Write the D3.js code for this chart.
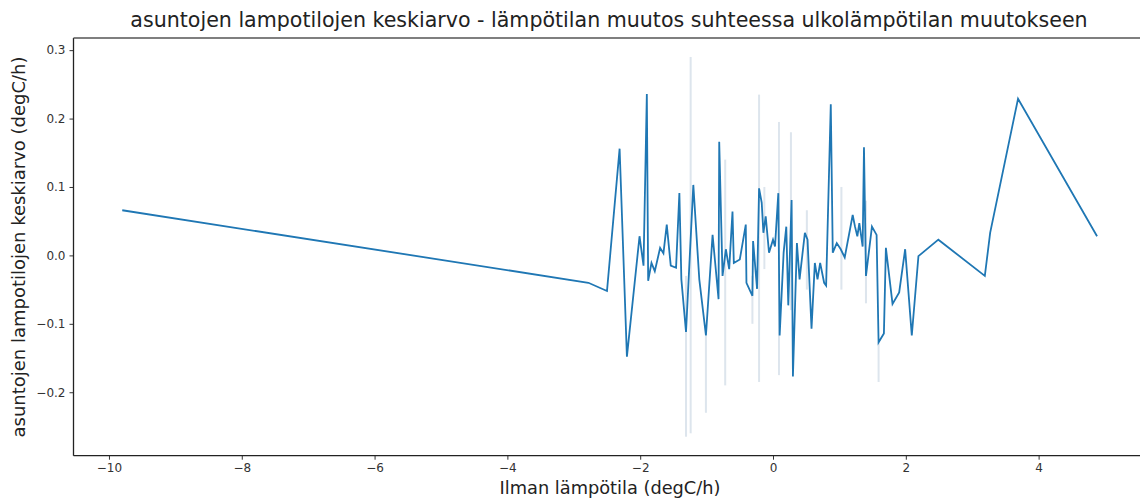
<!DOCTYPE html>
<html>
<head>
<meta charset="utf-8">
<script src="https://cdn.jsdelivr.net/npm/d3@7"></script>
<style>
  html, body { margin: 0; padding: 0; background: #fff; }
  svg { display: block; font-family: "DejaVu Sans", sans-serif; }
</style>
</head>
<body>
<svg id="chart" width="1140" height="500"></svg>
<script>
// ---- data ----
const title = "asuntojen lampotilojen keskiarvo - lämpötilan muutos suhteessa ulkolämpötilan muutokseen";
const xLabel = "Ilman lämpötila (degC/h)";
const yLabel = "asuntojen lampotilojen keskiarvo (degC/h)";

const xValues = [
  -9.80, -2.78, -2.50, -2.31, -2.20, -2.01, -1.95, -1.90, -1.88, -1.83,
  -1.78, -1.70, -1.65, -1.60, -1.54, -1.46, -1.41, -1.38, -1.31, -1.20,
  -1.11, -1.01, -0.91, -0.82, -0.81, -0.76, -0.71, -0.66, -0.61, -0.59,
  -0.50, -0.41, -0.40, -0.31, -0.30, -0.24, -0.21, -0.17, -0.145, -0.11,
  -0.06, 0.00, 0.03, 0.08, 0.10, 0.16, 0.20, 0.23, 0.28, 0.30,
  0.36, 0.40, 0.48, 0.52, 0.58, 0.63, 0.67, 0.71, 0.77, 0.80,
  0.87, 0.90, 0.96, 1.02, 1.08, 1.20, 1.235, 1.27, 1.30, 1.35,
  1.37, 1.40, 1.49, 1.56, 1.59, 1.67, 1.70, 1.80, 1.90, 1.99,
  2.09, 2.19, 2.49, 3.19, 3.27, 3.69, 4.88
];
const yValues = [
  0.066, -0.040, -0.052, 0.156, -0.148, 0.028, -0.015, 0.236, -0.037, -0.011,
  -0.023, 0.011, 0.003, 0.045, -0.015, -0.018, 0.091, -0.035, -0.112, 0.103,
  -0.035, -0.117, 0.030, -0.064, 0.166, -0.030, 0.009, -0.020, 0.064, -0.011,
  -0.006, 0.045, -0.040, -0.059, 0.021, -0.049, 0.098, 0.077, 0.033, 0.057,
  0.004, 0.023, 0.013, 0.091, -0.117, 0.004, 0.042, -0.073, 0.081, -0.177,
  0.018, -0.035, 0.033, 0.023, -0.107, -0.011, -0.035, -0.011, -0.040, -0.044,
  0.221, 0.004, 0.018, 0.009, -0.003, 0.059, 0.042, 0.028, 0.047, 0.013,
  0.158, -0.030, 0.042, 0.030, -0.127, -0.114, 0.011, -0.071, -0.054, 0.009,
  -0.117, -0.001, 0.023, -0.030, 0.033, 0.229, 0.028
];

// confidence-interval spreads visible as faint vertical bands
const ciX    = [-1.31, -1.24, -1.01, -0.72, -0.31, -0.21, -0.13, 0.09, 0.27, 0.51, 1.03, 1.40, 1.59];
const ciLow  = [-0.265, -0.26, -0.23, -0.19, -0.10, -0.185, -0.02, -0.175, -0.08, -0.05, -0.05, -0.07, -0.185];
const ciHigh = [-0.03, 0.29, -0.117, 0.14, -0.03, 0.235, 0.10, 0.195, 0.18, 0.066, 0.10, 0.08, -0.127];

const xTicks = [-10, -8, -6, -4, -2, 0, 2, 4];
const yTicks = [-0.2, -0.1, 0.0, 0.1, 0.2, 0.3];

// ---- layout ----
const plot = { left: 73.5, right: 1145.8, top: 38, bottom: 455.7 };
const lineColor = "#1f77b4";

const xExt = d3.extent(xValues);
const xPad = (xExt[1] - xExt[0]) * 0.05;
const yLo = d3.min(ciLow.concat(yValues)), yHi = d3.max(ciHigh.concat(yValues));
const yPad = (yHi - yLo) * 0.05;

const x = d3.scaleLinear().domain([xExt[0] - xPad, xExt[1] + xPad]).range([plot.left, plot.right]);
const y = d3.scaleLinear().domain([yLo - yPad, yHi + yPad]).range([plot.bottom, plot.top]);

const svg = d3.select("#chart");

svg.append("defs").append("clipPath").attr("id", "clip")
  .append("rect")
  .attr("x", plot.left).attr("y", plot.top)
  .attr("width", plot.right - plot.left).attr("height", plot.bottom - plot.top);

const g = svg.append("g").attr("clip-path", "url(#clip)");

// CI bands
g.selectAll("rect.ci").data(ciX).join("rect")
  .attr("class", "ci")
  .attr("x", d => x(d) - 1)
  .attr("width", 2)
  .attr("y", (d, i) => y(ciHigh[i]))
  .attr("height", (d, i) => y(ciLow[i]) - y(ciHigh[i]))
  .attr("fill", "#8fa9c4")
  .attr("fill-opacity", 0.3);

// main line
const pts = xValues.map((v, i) => [v, yValues[i]]);
g.append("path")
  .datum(pts)
  .attr("fill", "none")
  .attr("stroke", lineColor)
  .attr("stroke-width", 1.8)
  .attr("stroke-linejoin", "miter")
  .attr("d", d3.line().x(d => x(d[0])).y(d => y(d[1])));

// axes
const fmtY = v => d3.format(".1f")(v).replace("-", "\u2212");
const fmtX = v => String(v).replace("-", "\u2212");

const xAxis = svg.append("g")
  .attr("transform", `translate(0,${plot.bottom})`)
  .call(d3.axisBottom(x).tickValues(xTicks).tickFormat(fmtX).tickSize(4).tickPadding(4).tickSizeOuter(0));
const yAxis = svg.append("g")
  .attr("transform", `translate(${plot.left},0)`)
  .call(d3.axisLeft(y).tickValues(yTicks).tickFormat(fmtY).tickSize(4).tickPadding(4).tickSizeOuter(0));

[xAxis, yAxis].forEach(a => {
  a.select(".domain").remove();
  a.selectAll(".tick line").attr("stroke", "#333").attr("stroke-width", 1);
  a.selectAll(".tick text").attr("fill", "#333").style("font-size", "12px")
    .style("font-family", "'DejaVu Sans', sans-serif");
});

// spines
svg.append("line").attr("x1", plot.left).attr("x2", plot.left).attr("y1", plot.top).attr("y2", plot.bottom)
  .attr("stroke", "#222").attr("stroke-width", 1.3);
svg.append("line").attr("x1", plot.left).attr("x2", plot.right).attr("y1", plot.bottom).attr("y2", plot.bottom)
  .attr("stroke", "#222").attr("stroke-width", 1.3);
svg.append("line").attr("x1", plot.left).attr("x2", plot.right).attr("y1", plot.top).attr("y2", plot.top)
  .attr("stroke", "#555").attr("stroke-width", 1.3);
svg.append("line").attr("x1", plot.right).attr("x2", plot.right).attr("y1", plot.top).attr("y2", plot.bottom)
  .attr("stroke", "#222").attr("stroke-width", 1.3);

// title
const t = svg.append("text")
  .attr("x", 609).attr("y", 27)
  .attr("text-anchor", "middle")
  .attr("fill", "#222")
  .style("font-size", "17px")
  .text(title);
const tw = t.node().getComputedTextLength();
t.style("font-size", (17 * 958 / tw).toFixed(2) + "px");

// x label
const xl = svg.append("text")
  .attr("x", 610).attr("y", 494)
  .attr("text-anchor", "middle")
  .attr("fill", "#222")
  .style("font-size", "15px")
  .text(xLabel);
const xlw = xl.node().getComputedTextLength();
xl.style("font-size", (15 * 221 / xlw).toFixed(2) + "px");

// y label
const yl = svg.append("text")
  .attr("transform", "translate(25,247) rotate(-90)")
  .attr("text-anchor", "middle")
  .attr("fill", "#222")
  .style("font-size", "15px")
  .text(yLabel);
const ylw = yl.node().getComputedTextLength();
yl.style("font-size", (15 * 381 / ylw).toFixed(2) + "px");
</script>
</body>
</html>
